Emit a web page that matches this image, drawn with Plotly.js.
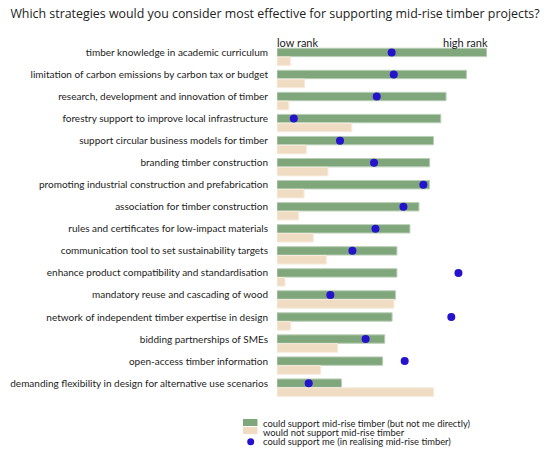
<!DOCTYPE html>
<html>
<head>
<meta charset="utf-8">
<script src="https://cdn.plot.ly/plotly-3.0.1.min.js"></script>
<style>html,body{margin:0;padding:0;background:#fff;}#chart{width:550px;height:455px;}</style>
</head>
<body>
<div id="chart"></div>
<script>
const categories = [
  "timber knowledge in academic curriculum",
  "limitation of carbon emissions by carbon tax or budget",
  "research, development and innovation of timber",
  "forestry support to improve local infrastructure",
  "support circular business models for timber",
  "branding timber construction",
  "promoting industrial construction and prefabrication",
  "association for timber construction",
  "rules and certificates for low-impact materials",
  "communication tool to set sustainability targets",
  "enhance product compatibility and standardisation",
  "mandatory reuse and cascading of wood",
  "network of independent timber expertise in design",
  "bidding partnerships of SMEs",
  "open-access timber information",
  "demanding flexibility in design for alternative use scenarios"
];
const couldSupportOthers = [99.9, 90.2, 80.5, 78.0, 74.5, 72.7, 72.6, 67.6, 63.3, 57.1, 57.1, 56.4, 54.8, 51.3, 50.3, 30.7];
const wouldNotSupport    = [6.4, 13.2, 5.6, 35.6, 14.0, 24.3, 12.9, 10.3, 17.3, 23.5, 3.8, 55.7, 6.5, 28.9, 20.8, 74.6];
const couldSupportMe     = [54.6, 55.6, 47.5, 8.0, 30.0, 46.2, 69.7, 60.2, 46.9, 35.9, 86.4, 25.4, 83.0, 42.2, 60.8, 15.1];
const legendLabels = [
  "could support mid-rise timber (but not me directly)",
  "would not support mid-rise timber",
  "could support me (in realising mid-rise timber)"
];

const GREEN = "#80a67c", BEIGE = "#f0dcc3", BLUE = "#2412cc";
const FONT = "Lato, 'Open Sans', sans-serif";

// plot area in pixels (for positioning custom legend)
const W = 550, H = 455, L = 277, R = 63, T = 37, B = 52;
const pw = W - L - R, ph = H - T - B;
const px2x = p => (p - L) / pw;
const py2y = p => (H - B - p) / ph;

const traces = [
  {type: "bar", orientation: "h", name: legendLabels[0], y: categories, x: couldSupportOthers,
   width: 0.38, offset: -0.19,
   marker: {color: GREEN, line: {color: "#b9cfb6", width: 1}}, hoverinfo: "x+y"},
  {type: "bar", orientation: "h", name: legendLabels[1], y: categories, x: wouldNotSupport,
   width: 0.39, offset: 0.21,
   marker: {color: BEIGE, line: {color: "#f7ebdc", width: 1}}, hoverinfo: "x+y"},
  {type: "scatter", mode: "markers", name: legendLabels[2], y: categories, x: couldSupportMe,
   marker: {color: BLUE, size: 8}, hoverinfo: "x+y"}
];

const shapes = [
  {type: "rect", xref: "paper", yref: "paper", x0: px2x(243), x1: px2x(257.5), y0: py2y(426), y1: py2y(419),
   fillcolor: GREEN, line: {width: 0}},
  {type: "rect", xref: "paper", yref: "paper", x0: px2x(243), x1: px2x(257.5), y0: py2y(434), y1: py2y(427),
   fillcolor: BEIGE, line: {width: 0}},
  {type: "circle", xref: "paper", yref: "paper", x0: px2x(247.2), x1: px2x(254.2), y0: py2y(445.2), y1: py2y(438.2),
   fillcolor: BLUE, line: {width: 0}}
];

const legendY = [423.5, 432.5, 441.7];
const annotations = [
  {text: "low rank", xref: "paper", yref: "paper", x: px2x(275), y: py2y(42), xanchor: "left", yanchor: "middle",
   showarrow: false, font: {family: FONT, size: 11, color: "#222"}},
  {text: "high rank", xref: "paper", yref: "paper", x: px2x(490), y: py2y(42), xanchor: "right", yanchor: "middle",
   showarrow: false, font: {family: FONT, size: 11, color: "#222"}}
].concat(legendLabels.map((t, i) => ({
  text: t, xref: "paper", yref: "paper", x: px2x(261), y: py2y(legendY[i]),
  xanchor: "left", yanchor: "middle", showarrow: false,
  font: {family: FONT, size: 9.4, color: "#222"}
})));

const layout = {
  width: W, height: H,
  margin: {l: L, r: R, t: T, b: B, pad: 0},
  paper_bgcolor: "#fff", plot_bgcolor: "#fff",
  title: {text: "Which strategies would you consider most effective for supporting mid-rise timber projects?",
    font: {family: "'Open Sans', sans-serif", size: 12.4, color: "#222"},
    x: 0.5, xanchor: "center", xref: "container", y: 1 - 14 / H, yanchor: "middle", yref: "container"},
  showlegend: false,
  xaxis: {range: [0, 100], showgrid: false, zeroline: false, showline: false, showticklabels: false, ticks: "", fixedrange: true},
  yaxis: {type: "category", range: [15.9, -0.7], showgrid: false, zeroline: false, showline: false, ticks: "",
    ticklabelstandoff: 8, tickfont: {family: FONT, size: 10, color: "#222"}, fixedrange: true},
  shapes: shapes,
  annotations: annotations
};

Plotly.newPlot("chart", traces, layout, {displayModeBar: false, staticPlot: true});
</script>
</body>
</html>
